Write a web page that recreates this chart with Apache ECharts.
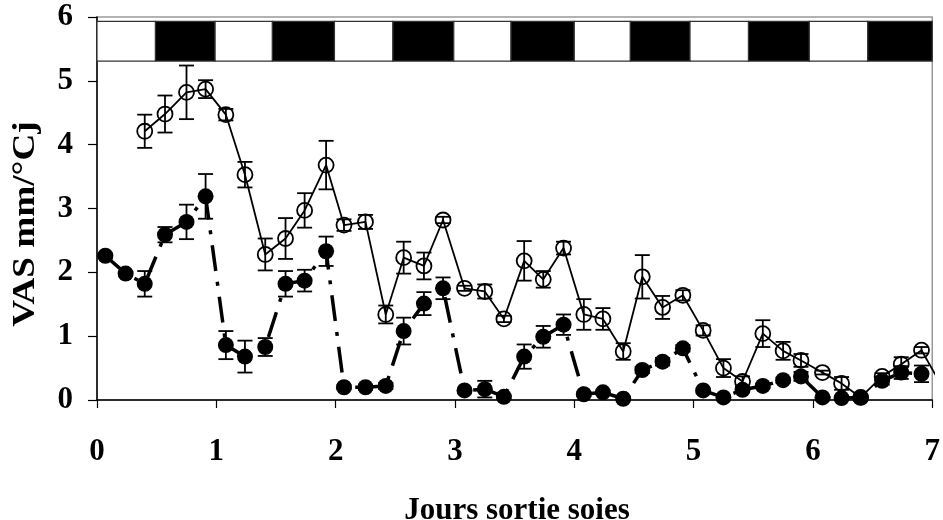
<!DOCTYPE html>
<html>
<head>
<meta charset="utf-8">
<script src="https://cdn.jsdelivr.net/npm/echarts@6/dist/echarts.min.js"></script>
<style>
  html, body { margin: 0; padding: 0; background: #fff; }
  #chart { width: 943px; height: 520px; }
</style>
</head>
<body>
<div id="chart"></div>
<script>
// Sampling times (days since emergence)
const days = [0.07, 0.24, 0.40, 0.57, 0.75, 0.91, 1.08, 1.24, 1.41, 1.58, 1.74, 1.92,
  2.07, 2.25, 2.42, 2.57, 2.74, 2.90, 3.08, 3.25, 3.41, 3.58, 3.74, 3.91,
  4.08, 4.24, 4.41, 4.57, 4.74, 4.91, 5.08, 5.25, 5.41, 5.58, 5.75, 5.90,
  6.08, 6.24, 6.40, 6.58, 6.74, 6.91, 7.08];

// Open circles, solid line: mean and standard error
const openMean = [null, null, 4.21, 4.48, 4.82, 4.87, 4.47, 3.53, 2.28, 2.53, 2.97, 3.68,
  2.74, 2.79, 1.34, 2.23, 2.10, 2.82, 1.75, 1.70, 1.27, 2.18, 1.89, 2.38,
  1.34, 1.27, 0.76, 1.93, 1.45, 1.64, 1.09, 0.50, 0.29, 1.04, 0.77, 0.62,
  0.43, 0.26, 0.04, 0.37, 0.56, 0.78, 0.22];
const openErr = [null, null, 0.26, 0.29, 0.42, 0.14, 0.09, 0.20, 0.25, 0.32, 0.27, 0.38,
  0.09, 0.11, 0.14, 0.25, 0.21, 0.05, 0.04, 0.11, 0.05, 0.31, 0.13, 0.10,
  0.24, 0.17, 0.13, 0.34, 0.18, 0.08, 0.08, 0.14, 0.08, 0.21, 0.14, 0.10,
  0.03, 0.10, 0.03, 0.05, 0.11, 0.05, 0.05];

// Filled circles, dashed line: mean and standard error
const filledMean = [2.26, 1.98, 1.82, 2.59, 2.79, 3.19, 0.86, 0.68, 0.83, 1.82, 1.87, 2.33,
  0.20, 0.20, 0.22, 1.08, 1.51, 1.75, 0.15, 0.17, 0.05, 0.68, 0.99, 1.18,
  0.09, 0.12, 0.02, 0.47, 0.60, 0.81, 0.15, 0.04, 0.16, 0.22, 0.31, 0.37,
  0.04, 0.03, 0.04, 0.30, 0.43, 0.41, 0.25];
const filledErr = [0.03, 0.03, 0.20, 0.12, 0.27, 0.35, 0.22, 0.25, 0.14, 0.20, 0.17, 0.23,
  0.03, 0.04, 0.05, 0.21, 0.18, 0.17, 0.03, 0.13, 0.02, 0.19, 0.17, 0.16,
  0.03, 0.03, 0.02, 0.05, 0.06, 0.05, 0.03, 0.02, 0.03, 0.03, 0.04, 0.07,
  0.02, 0.02, 0.03, 0.06, 0.10, 0.13, 0.10];

// Photoperiod: boundaries (days) and phase of each interval
const phaseEdges = [0, 0.49, 0.99, 1.47, 1.99, 2.48, 2.99, 3.47, 4.00, 4.47, 4.97, 5.46, 5.97, 6.46, 7.00];
const phases = ['jour', 'nuit', 'jour', 'nuit', 'jour', 'nuit', 'jour', 'nuit',
  'jour', 'nuit', 'jour', 'nuit', 'jour', 'nuit'];

// Axis ticks
const xTicks = [0, 1, 2, 3, 4, 5, 6, 7];
const yTicks = [0, 1, 2, 3, 4, 5, 6];

const FONT = '"Liberation Serif", "Times New Roman", serif';
const BAND_LOW = 5.31, BAND_HIGH = 5.93;

const pairs = (ys) => days.map((d, i) => [d, ys[i]]);
const bars = (ys, es) => days.map((d, i) => ys[i] == null ? null : [d, ys[i] - es[i], ys[i] + es[i]]).filter(Boolean);

// Vertical error bar with caps, drawn through the axes' own scales
function errorBar(params, api) {
  const x = api.value(0);
  const top = api.coord([x, api.value(2)]);
  const bot = api.coord([x, api.value(1)]);
  const half = 7.5;
  const st = { stroke: '#000', lineWidth: 1.8 };
  return {
    type: 'group',
    children: [
      { type: 'line', shape: { x1: top[0], y1: top[1], x2: bot[0], y2: bot[1] }, style: st },
      { type: 'line', shape: { x1: top[0] - half, y1: top[1], x2: top[0] + half, y2: top[1] }, style: st },
      { type: 'line', shape: { x1: bot[0] - half, y1: bot[1], x2: bot[0] + half, y2: bot[1] }, style: st }
    ]
  };
}

const bandData = phases.map((p, i) => [phaseEdges[i], phaseEdges[i + 1], p === 'nuit' ? 1 : 0]);

const chart = echarts.init(document.getElementById('chart'), null, { renderer: 'canvas' });
chart.setOption({
  animation: false,
  backgroundColor: '#fff',
  grid: { left: 97, right: 5, top: 17, bottom: 120, show: true, borderColor: '#999', borderWidth: 1.5 },
  xAxis: {
    type: 'value', min: xTicks[0], max: xTicks[xTicks.length - 1], interval: 1,
    axisLine: { lineStyle: { color: '#000', width: 1.5 } },
    axisTick: { inside: false, length: 8, lineStyle: { color: '#000', width: 1.2 } },
    splitLine: { show: false },
    axisLabel: { margin: 36, color: '#000', fontFamily: FONT, fontWeight: 'bold', fontSize: 31, showMaxLabel: true,
      formatter: v => xTicks.includes(v) ? String(v) : '' }
  },
  yAxis: {
    type: 'value', min: yTicks[0], max: yTicks[yTicks.length - 1], interval: 1,
    axisLine: { show: true, lineStyle: { color: '#000', width: 1.5 } },
    axisTick: { show: true, inside: false, length: 9, lineStyle: { color: '#000', width: 1.2 } },
    splitLine: { show: false },
    axisLabel: { margin: 24, color: '#000', fontFamily: FONT, fontWeight: 'bold', fontSize: 31,
      formatter: v => yTicks.includes(v) ? String(v) : '' }
  },
  graphic: [
    { type: 'text', x: 517, y: 526, style: { text: 'Jours sortie soies', font: 'bold 31px ' + FONT, fill: '#000', textAlign: 'center', textVerticalAlign: 'bottom' } },
    { type: 'text', x: 26, y: 224, rotation: Math.PI / 2, scaleX: 1.2,
      style: { text: 'VAS mm/°Cj', font: 'bold 31px ' + FONT, fill: '#000', textAlign: 'center', textVerticalAlign: 'middle' } }
  ],
  series: [
    {
      type: 'custom', name: 'photopériode', data: bandData, clip: true, z: 1,
      renderItem: (params, api) => {
        const p0 = api.coord([api.value(0), BAND_HIGH]);
        const p1 = api.coord([api.value(1), BAND_LOW]);
        return {
          type: 'rect',
          shape: { x: p0[0], y: p0[1], width: p1[0] - p0[0], height: p1[1] - p0[1] },
          style: { fill: api.value(2) === 1 ? '#000' : '#fff', stroke: '#333', lineWidth: 1.2 }
        };
      }
    },
    {
      type: 'custom', name: 'erreur ouverts', data: bars(openMean, openErr), clip: true, z: 2,
      renderItem: errorBar
    },
    {
      type: 'line', name: 'ouverts', data: pairs(openMean), clip: true, z: 3,
      symbol: 'circle', symbolSize: 15, connectNulls: false,
      lineStyle: { color: '#000', width: 1.8 },
      itemStyle: { color: 'rgba(0,0,0,0)', borderColor: '#000', borderWidth: 1.8 }
    },
    {
      type: 'custom', name: 'erreur pleins', data: bars(filledMean, filledErr), clip: true, z: 4,
      renderItem: errorBar
    },
    {
      type: 'line', name: 'pleins', data: pairs(filledMean), clip: true, z: 5,
      symbol: 'circle', symbolSize: 16,
      lineStyle: { color: '#000', width: 3.5, type: [26, 11, 4, 11] },
      itemStyle: { color: '#000', borderColor: '#000', borderWidth: 0 }
    }
  ]
});
</script>
</body>
</html>
